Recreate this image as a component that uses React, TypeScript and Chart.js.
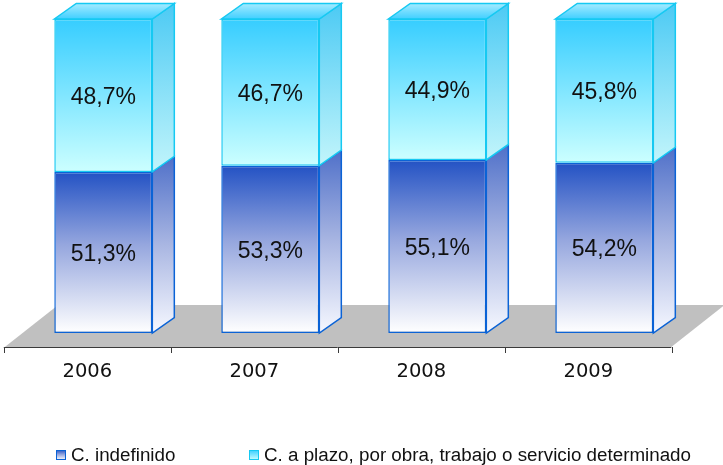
import React, { useEffect, useRef } from 'react';
import { Chart, registerables } from 'chart.js';

Chart.register(...registerables);

const categories = ['2006', '2007', '2008', '2009'];
const indefinido = [51.3, 53.3, 55.1, 54.2];
const plazo = [48.7, 46.7, 44.9, 45.8];
const seriesNames = ['C. indefinido', 'C. a plazo, por obra, trabajo o servicio determinado'];

const DEPTH_X = 22;
const DEPTH_Y = 15.5;

const styles = [
  {
    front: [[0, '#2352c4'], [0.45, '#95a6de'], [1, '#ffffff']],
    side: [[0, '#4f70c9'], [0.5, '#a9b6e2'], [1, '#f6f8ff']],
    top: [[0, '#6f8ad6'], [1, '#3a63c9']],
    border: '#0b63d6',
  },
  {
    front: [[0, '#36cdff'], [1, '#ccffff']],
    side: [[0, '#4ccaf4'], [1, '#c2f5fb']],
    top: [[0, '#a6ebff'], [1, '#40cfff']],
    border: '#16c9f2',
  },
];

function grad(ctx: CanvasRenderingContext2D, x0: number, y0: number, x1: number, y1: number, stops: any[]) {
  if (![x0, y0, x1, y1].every((v) => Number.isFinite(v))) return stops[0][1];
  const g = ctx.createLinearGradient(x0, y0, x1, y1);
  stops.forEach((s) => g.addColorStop(s[0], s[1]));
  return g;
}

function frontFill(c: any) {
  const chart = c.chart;
  const st = styles[c.datasetIndex] || styles[0];
  const y = chart.scales && chart.scales.y;
  if (!y || c.type !== 'data') return st.front[0][1];
  const dsets = chart.data.datasets;
  let lo = 0;
  for (let d = 0; d < c.datasetIndex; d++) lo += dsets[d].data[c.dataIndex];
  const hi = lo + dsets[c.datasetIndex].data[c.dataIndex];
  return grad(chart.ctx, 0, y.getPixelForValue(hi), 0, y.getPixelForValue(lo), st.front);
}

const threeD = {
  id: 'threeD',
  beforeDatasetsDraw(chart: any) {
    const { ctx, chartArea } = chart;
    const { left, right, bottom } = chartArea;
    const frontY = bottom + 14;
    const backY = bottom - 28;
    const slope = 1.27;
    const fl = left - 15;
    const fr = right - 16.5;
    ctx.save();
    ctx.fillStyle = '#c0c0c0';
    ctx.beginPath();
    ctx.moveTo(fl, frontY);
    ctx.lineTo(fr, frontY);
    ctx.lineTo(fr + (frontY - backY) * slope, backY);
    ctx.lineTo(fl + (frontY - backY) * slope, backY);
    ctx.closePath();
    ctx.fill();
    ctx.strokeStyle = '#3a3a3a';
    ctx.lineWidth = 1;
    const n = categories.length;
    const step = (right - left) / n;
    ctx.beginPath();
    ctx.moveTo(left - 16, frontY + 0.5);
    ctx.lineTo(right - 16.5, frontY + 0.5);
    for (let i = 0; i <= n; i++) {
      const x = Math.round(left + i * step - 16) + 0.5;
      ctx.moveTo(x, frontY);
      ctx.lineTo(x, frontY + 6);
    }
    ctx.stroke();
    ctx.restore();
  },
  afterDatasetsDraw(chart: any) {
    const { ctx } = chart;
    const nds = chart.data.datasets.length;
    ctx.save();
    for (let d = 0; d < nds; d++) {
      const meta = chart.getDatasetMeta(d);
      const st = styles[d];
      meta.data.forEach((bar: any) => {
        const p = bar.getProps(['x', 'y', 'base', 'width'], true);
        const x1 = p.x - p.width / 2;
        const x2 = p.x + p.width / 2;
        const yT = Math.min(p.y, p.base);
        const yB = Math.max(p.y, p.base);
        ctx.beginPath();
        ctx.moveTo(x2, yT);
        ctx.lineTo(x2 + DEPTH_X, yT - DEPTH_Y);
        ctx.lineTo(x2 + DEPTH_X, yB - DEPTH_Y);
        ctx.lineTo(x2, yB);
        ctx.closePath();
        ctx.fillStyle = grad(ctx, 0, yT - DEPTH_Y, 0, yB, st.side);
        ctx.fill();
        ctx.strokeStyle = st.border;
        ctx.lineWidth = 1.5;
        ctx.stroke();
        if (d === nds - 1) {
          ctx.beginPath();
          ctx.moveTo(x1, yT);
          ctx.lineTo(x1 + DEPTH_X, yT - DEPTH_Y);
          ctx.lineTo(x2 + DEPTH_X, yT - DEPTH_Y);
          ctx.lineTo(x2, yT);
          ctx.closePath();
          ctx.fillStyle = grad(ctx, 0, yT - DEPTH_Y, 0, yT, st.top);
          ctx.fill();
          ctx.strokeStyle = st.border;
          ctx.stroke();
        }
      });
    }
    ctx.fillStyle = '#111111';
    ctx.font = '23px "Liberation Sans", Arial, sans-serif';
    ctx.textAlign = 'center';
    ctx.textBaseline = 'middle';
    for (let d = 0; d < nds; d++) {
      const meta = chart.getDatasetMeta(d);
      const data = chart.data.datasets[d].data;
      meta.data.forEach((bar: any, i: number) => {
        const p = bar.getProps(['x', 'y', 'base'], true);
        const txt = Number(data[i]).toFixed(1).replace('.', ',') + '%';
        ctx.fillText(txt, p.x, (p.y + p.base) / 2 + 2);
      });
    }
    ctx.restore();
  },
  afterDraw(chart: any) {
    const { ctx } = chart;
    const boxX = [56, 249];
    const boxY = 450;
    ctx.save();
    ctx.font = '18.8px "Liberation Sans", Arial, sans-serif';
    ctx.textBaseline = 'middle';
    ctx.textAlign = 'left';
    seriesNames.forEach((name, i) => {
      const st = styles[i];
      ctx.fillStyle = grad(ctx, 0, boxY, 0, boxY + 10, st.front);
      ctx.fillRect(boxX[i], boxY, 10, 10);
      ctx.strokeStyle = st.border;
      ctx.lineWidth = 1;
      ctx.strokeRect(boxX[i] + 0.5, boxY + 0.5, 9, 9);
      ctx.fillStyle = '#111111';
      ctx.fillText(name, boxX[i] + 15, boxY + 5.5);
    });
    ctx.restore();
  },
};

export default function App() {
  const ref = useRef<HTMLCanvasElement>(null);
  useEffect(() => {
    if (!ref.current) return;
    const chart = new Chart(ref.current, {
      type: 'bar',
      data: {
        labels: categories,
        datasets: [
          {
            label: seriesNames[0],
            data: indefinido,
            backgroundColor: frontFill,
            borderColor: styles[0].border,
            borderWidth: 1.5,
            borderSkipped: false,
            barPercentage: 0.587,
            categoryPercentage: 1,
          },
          {
            label: seriesNames[1],
            data: plazo,
            backgroundColor: frontFill,
            borderColor: styles[1].border,
            borderWidth: 1.5,
            borderSkipped: false,
            barPercentage: 0.587,
            categoryPercentage: 1,
          },
        ],
      },
      options: {
        responsive: false,
        animation: false,
        devicePixelRatio: 1,
        layout: { padding: { left: 19.8, right: 35.2, top: 19, bottom: 0 } },
        plugins: { legend: { display: false }, tooltip: { enabled: false } },
        scales: {
          x: {
            stacked: true,
            grid: { display: false, drawTicks: false },
            border: { display: false },
            ticks: {
              color: '#111111',
              font: { family: '"DejaVu Sans", sans-serif', size: 19.5 },
              labelOffset: -16,
              padding: 27,
              maxRotation: 0,
            },
            afterFit: (scale: any) => {
              scale.height = 132;
            },
          },
          y: {
            stacked: true,
            display: false,
            min: 0,
            max: 100,
          },
        },
      },
      plugins: [threeD],
    });
    return () => chart.destroy();
  }, []);
  return (
    <div style={{ position: 'absolute', left: 0, top: 0, width: 723, height: 465, background: '#ffffff' }}>
      <canvas ref={ref} width={723} height={465} />
    </div>
  );
}
